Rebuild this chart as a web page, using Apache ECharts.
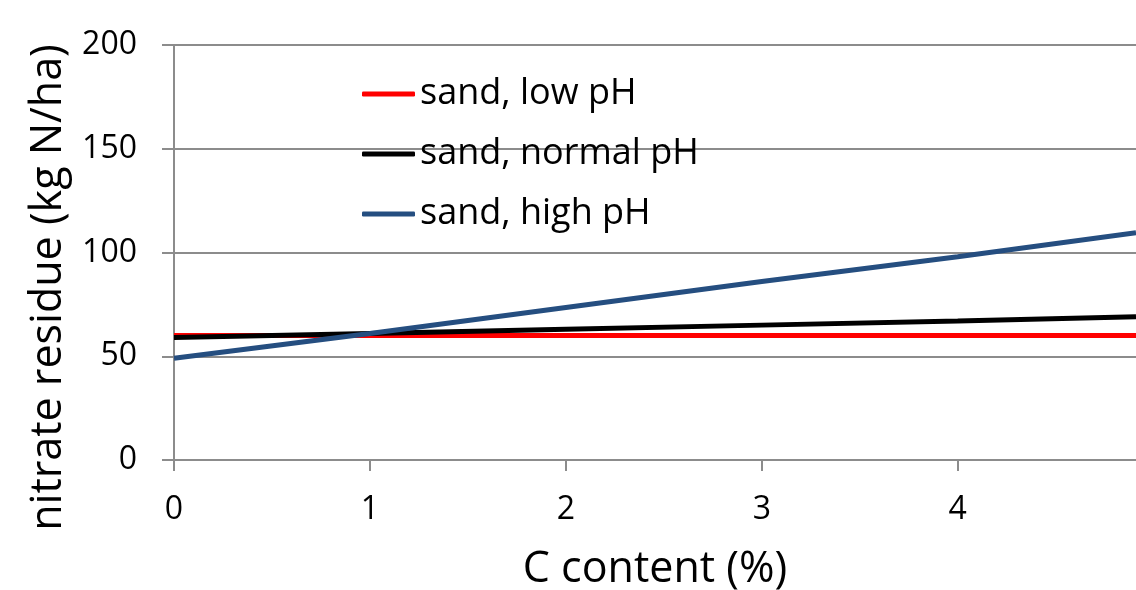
<!DOCTYPE html>
<html>
<head>
<meta charset="utf-8">
<script src="https://cdn.jsdelivr.net/npm/echarts@6/dist/echarts.min.js"></script>
<style>
  html, body { margin: 0; padding: 0; background: #fff; }
  #chart { width: 1136px; height: 590px; }
</style>
</head>
<body>
<div id="chart"></div>
<script>
const xValues = [0, 1, 2, 3, 4, 4.91];

const seriesNames = ["sand, low pH", "sand, normal pH", "sand, high pH"];
const lowPH = [60, 60, 60, 60, 60, 60];
const normalPH = [59, 61, 63, 65, 67, 69];
const highPH = [49, 61, 73.5, 86, 98, 109.5];

const yTicks = [0, 50, 100, 150, 200];
const xTicks = [0, 1, 2, 3, 4];

const colors = ["#ff0000", "#000000", "#254e80"];

const font = "'Open Sans', 'Noto Sans', sans-serif";
const gridGray = "#8c8c8c";

const chart = echarts.init(document.getElementById("chart"), null, { renderer: "canvas" });

const toPairs = (vals) => vals.map((v, i) => [xValues[i], v]);

const option = {
  animation: false,
  color: colors,
  textStyle: { fontFamily: font },
  grid: { left: 174, right: 0, top: 45, bottom: 130, outerBoundsMode: "none" },
  legend: {
    data: seriesNames,
    orient: "vertical",
    left: 357,
    top: 71,
    itemWidth: 53,
    itemHeight: 5,
    itemGap: 24,
    icon: "roundRect",
    textStyle: { fontSize: 36, color: "#000", fontFamily: font }
  },
  xAxis: {
    type: "value",
    min: 0,
    max: 4.91,
    interval: 1,
    name: "C content (%)",
    nameLocation: "middle",
    nameGap: 88,
    nameTextStyle: { fontSize: 43, color: "#000", fontFamily: font },
    axisLine: { show: true, onZero: false, lineStyle: { color: gridGray, width: 2 } },
    axisTick: { show: true, length: 11, lineStyle: { color: gridGray, width: 2 } },
    axisLabel: {
      fontSize: 32, color: "#000", margin: 34,
      showMaxLabel: false,
      formatter: (v) => xTicks.includes(v) ? String(v) : ""
    },
    splitLine: { show: false }
  },
  yAxis: {
    type: "value",
    min: 0,
    max: 200,
    interval: 50,
    name: "nitrate residue (kg N/ha)",
    nameLocation: "middle",
    nameGap: 104,
    nameTextStyle: { fontSize: 43, color: "#000", fontFamily: font, padding: [0, 0, 0, -70] },
    axisLine: { show: true, lineStyle: { color: gridGray, width: 2 } },
    axisTick: { show: true, length: 12, lineStyle: { color: gridGray, width: 2 } },
    axisLabel: {
      fontSize: 32, color: "#000", margin: 37,
      formatter: (v) => yTicks.includes(v) ? String(v) : ""
    },
    splitLine: { show: true, lineStyle: { color: gridGray, width: 2 } }
  },
  series: [
    { name: seriesNames[0], type: "line", data: toPairs(lowPH), symbol: "none", lineStyle: { width: 5 }, z: 2 },
    { name: seriesNames[1], type: "line", data: toPairs(normalPH), symbol: "none", lineStyle: { width: 5 }, z: 3 },
    { name: seriesNames[2], type: "line", data: toPairs(highPH), symbol: "none", lineStyle: { width: 5 }, z: 4 }
  ]
};

chart.setOption(option);
window.addEventListener("resize", chart.resize);
</script>
</body>
</html>
